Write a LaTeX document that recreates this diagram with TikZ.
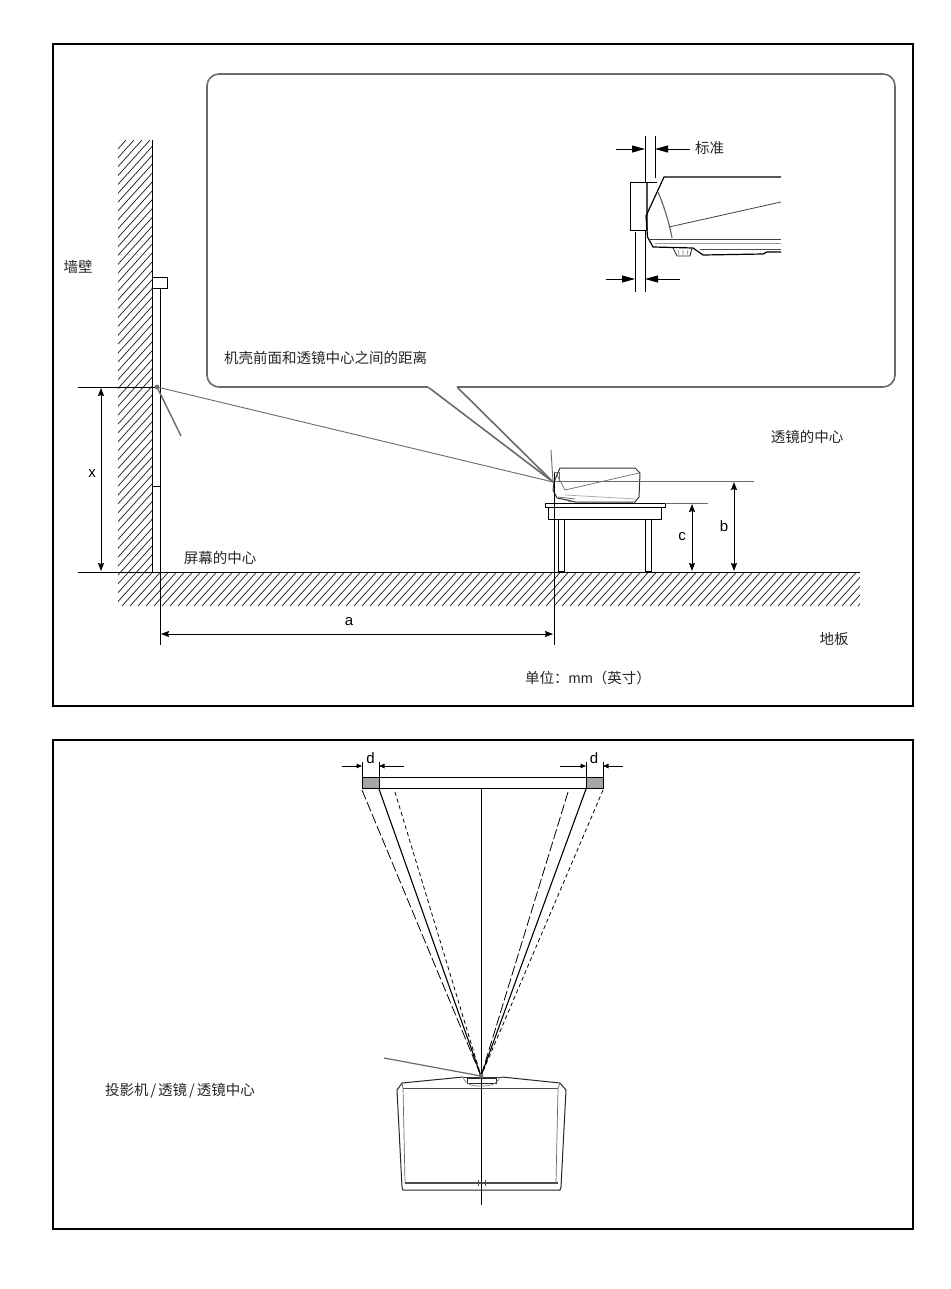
\documentclass[tikz,border=0pt]{standalone}
\usepackage{fontspec}
\setmainfont{Liberation Sans}
\newfontfamily\cjk{Noto Sans CJK SC}
\usetikzlibrary{arrows.meta}
\definecolor{leader}{gray}{0.42}
\tikzset{
  x=1pt,y=-1pt,
  frame/.style={draw=black,line width=1.4pt},
  ln/.style={draw=black,line width=1pt},
  thin line/.style={draw=black,line width=0.7pt},
  leaderline/.style={draw=leader,line width=0.9pt},
  dim/.style={draw=black,line width=1pt,{Stealth[length=8pt,width=6pt,inset=1pt]}-{Stealth[length=8pt,width=6pt,inset=1pt]}},
  bigarrow/.style={draw=black,line width=0.9pt,-{Stealth[length=13pt,width=7pt,inset=0pt]}},
  smallarrow/.style={draw=black,line width=0.9pt,-{Stealth[length=5.5pt,width=4.5pt,inset=0pt]}},
  label/.style={font=\cjk\fontsize{14.5}{16}\selectfont,inner sep=0pt,text=black!85},
  letter/.style={font=\fontsize{15}{16}\selectfont,inner sep=0pt},
  hatchline/.style={draw=black!85,line width=0.75pt},
  longdash/.style={draw=black,line width=0.8pt,dash pattern=on 10pt off 3pt},
  shortdash/.style={draw=black,line width=0.8pt,dash pattern=on 4pt off 3pt},
}
\begin{document}
\begin{tikzpicture}
\useasboundingbox (0,0) rectangle (950,1289);
\fill[white] (0,0) rectangle (950,1289);
% frames
\draw[frame] (53,44) rectangle (913,706);
\draw[frame] (53,740) rectangle (913,1229);
% hatching
\begin{scope}
\clip (118,140) rectangle (152,572) (118,572) rectangle (860,606);
\foreach \k in {0,8,...,1280} {
  \draw[hatchline] (-310+\k,606) -- (-310+\k+420,140);
}
\end{scope}
% wall and floor
\coordinate (wallT) at (152,140);
\coordinate (wallB) at (152,572);
\draw[ln] (wallT) -- (wallB);
\coordinate (floorL) at (78,572);
\coordinate (floorR) at (860,572);
\draw[ln] (floorL) -- (floorR);
% screen
\draw[ln] (152,277) rectangle (167,288);
\draw[ln] (160,288) -- (160,486) -- (152,486);
\draw[thin line] (160,486) -- (160,645);
\coordinate (scr) at (157,387);
\coordinate (xTop) at (78,387);
\draw[ln] (xTop) -- (scr);
% callout
\coordinate (tip) at (553,482);
\draw[draw=leader,line width=1.6pt,fill=white,rounded corners=0pt]
  (428,387) -- (tip) -- (457,387);
\draw[draw=leader,line width=1.6pt,fill=white,rounded corners=12pt]
  (428,387) -- (207,387) -- (207,74) -- (895,74) -- (895,387) -- (457,387);
% leaders
\coordinate (scrL) at (181,436);
\coordinate (tipL) at (551,450);
\draw[leaderline] (scr) -- (tip);
\draw[draw=leader,line width=1.4pt] (scr) -- (scrL);
\draw[leaderline] (tipL) -- (tip);
\fill[leader] (scr) circle (2.4pt);
% inset drawing
\draw[ln] (645,136) -- (645,292);
\draw[ln] (655,136) -- (655,178);
\draw[ln] (635,232) -- (635,292);
\coordinate (ia) at (616,149); \coordinate (ib) at (645,149);
\coordinate (ic) at (690,149); \coordinate (id) at (655,149);
\draw[bigarrow] (ia) -- (ib);
\draw[bigarrow] (ic) -- (id);
\coordinate (ie) at (606,279); \coordinate (if) at (635,279);
\coordinate (ig) at (680,279); \coordinate (ih) at (645,279);
\draw[bigarrow] (ie) -- (if);
\draw[bigarrow] (ig) -- (ih);
\draw[ln,fill=white] (630,183) rectangle (647,231);
\draw[draw=black!70,line width=1.6pt] (647,183) -- (647,231);
\draw[ln] (647,183) -- (657,183);
\draw[draw=black,line width=1.2pt] (781,177) -- (664,177) -- (646,216) -- (647.5,237) -- (653,247) -- (693,248) -- (703,255) -- (763,254) -- (767,252) -- (781,252);
\draw[draw=leader,line width=1.2pt] (658,192) .. controls (664,206) and (669,222) .. (672,238);
\draw[draw=black!75,line width=0.8pt] (669,227) -- (781,202);
\draw[draw=black!75,line width=0.9pt] (649,239) -- (781,239);
\draw[draw=black!40,line width=0.9pt] (655,243) -- (781,243);
\draw[draw=black!80,line width=0.9pt] (673,248) -- (677,256) -- (690,256) -- (692,248);
\draw[draw=black!50,line width=0.6pt] (678,250) -- (679,255) (683,250) -- (683,255) (688,250) -- (687,255);
\draw[draw=black!70,line width=0.8pt] (700,249) -- (781,249);
% table
\draw[ln] (545,503) rectangle (665,507.5);
\draw[ln] (548,507.5) rectangle (661,519);
\draw[ln] (558,519) rectangle (564,571);
\draw[ln] (645,519) rectangle (651,571);
% small projector
\draw[draw=black!80,line width=1pt,fill=white] (560,468) -- (635,468) -- (640,473) -- (639,497) -- (635,502) -- (575,502) -- (567,500) -- (557,498) -- (553,490) -- (554,482) -- cycle;
\draw[draw=black!60,line width=0.7pt] (554,472) rectangle (559,481);
\draw[draw=leader,line width=0.7pt] (557,475) -- (565,490) -- (639,473);
\draw[draw=black!35,line width=0.7pt] (565,495) -- (636,499);
\draw[draw=black!60,line width=0.7pt] (558,497) -- (575,499) (566,500) -- (571,502);
% dimension extension lines
\coordinate (lensB) at (559,481);
\coordinate (bR) at (754,481);
\draw[leaderline,line width=0.7pt] (lensB) -- (bR);
\coordinate (tblR) at (665,503);
\coordinate (cR) at (708,503);
\draw[draw=leader,line width=0.8pt] (tblR) -- (cR);
\draw[draw=black,line width=0.8pt] (554,473) -- (554,645);
% dimensions
\coordinate (xa) at (101,388); \coordinate (xb) at (101,571);
\draw[dim] (xa) -- (xb);
\node[letter] (lx) at (92,474) {x};
\coordinate (aa) at (161,634); \coordinate (ab) at (553,634);
\draw[dim] (aa) -- (ab);
\node[letter] (la) at (349,622) {a};
\coordinate (ca) at (692,504); \coordinate (cb) at (692,571);
\draw[dim] (ca) -- (cb);
\node[letter] (lc) at (682,537) {c};
\coordinate (ba) at (734,482); \coordinate (bb) at (734,571);
\draw[dim] (ba) -- (bb);
\node[letter] (lb) at (724,526) {b};
% labels top
\node[label] (t1) at (78,267) {墙壁};
\node[label,anchor=west] (t2) at (224,358) {机壳前面和透镜中心之间的距离};
\node[label,anchor=west] (t3) at (695,148) {标准};
\node[label] (t4) at (807,437) {透镜的中心};
\node[label] (t5) at (220,558) {屏幕的中心};
\node[label] (t6) at (834,639) {地板};
\node[label,anchor=west] (t7) at (525,678) {单位：\fontspec{Liberation Sans}mm\cjk（英寸）};
% bottom: screen
\draw[ln,fill=black!35] (362,777) rectangle (379,788.5);
\draw[ln,fill=black!35] (586,777) rectangle (603,788.5);
\draw[ln] (379,777) rectangle (586,788.5);
\draw[thin line] (362,762) -- (362,777) (379,762) -- (379,777);
\draw[thin line] (586,762) -- (586,777) (603,762) -- (603,777);
\coordinate (d1) at (342,766); \coordinate (d2) at (362,766);
\coordinate (d3) at (404,766); \coordinate (d4) at (379,766);
\coordinate (d5) at (560,766); \coordinate (d6) at (586,766);
\coordinate (d7) at (623,766); \coordinate (d8) at (603,766);
\draw[smallarrow] (d1) -- (d2);
\draw[smallarrow] (d3) -- (d4);
\draw[smallarrow] (d5) -- (d6);
\draw[smallarrow] (d7) -- (d8);
\node[letter] (ld1) at (370.5,758) {d};
\node[letter] (ld2) at (594,758) {d};
% beams
\coordinate (ptip) at (481,1076);
\coordinate (cT) at (481,789); \coordinate (cB) at (481,1205);
\draw[draw=black,line width=0.9pt] (cT) -- (cB);
\draw[draw=black,line width=1.1pt] (379,789) -- (ptip);
\draw[draw=black,line width=1.1pt] (586,789) -- (ptip);
\draw[longdash] (362,790) -- (ptip);
\draw[longdash] (568,792) -- (ptip);
\draw[shortdash] (395,792) -- (ptip);
\draw[shortdash] (603,790) -- (ptip);
% bottom projector
\draw[draw=black!85,line width=1pt] (463,1077) -- (402,1083) -- (397,1090) -- (402,1187) -- (403,1190) -- (560,1190) -- (561,1187) -- (566,1090) -- (560,1083) -- (502,1077);
\draw[draw=black!80,line width=0.8pt] (463,1077) -- (502,1077);
\draw[draw=black!85,line width=1pt] (467,1078) rectangle (496,1083);
\draw[draw=black!50,line width=0.7pt] (463,1077) .. controls (466,1085) and (472,1086) .. (481,1086) .. controls (490,1086) and (497,1085) .. (500,1077);
\draw[draw=black!70,line width=0.8pt] (403,1088) -- (558,1088);
\draw[draw=black!60,line width=0.7pt] (403,1088) -- (405,1183) (558,1088) -- (556,1183);
\draw[draw=black!60,line width=0.7pt] (402,1083) -- (403,1088) (560,1083) -- (558,1088);
\draw[draw=black!70,line width=1.6pt] (405,1183) -- (558,1183);
\draw[draw=black!70,line width=0.9pt] (478,1180) -- (478,1186) (485,1180) -- (485,1186);
\coordinate (pL) at (384,1058);
\draw[draw=leader,line width=1.2pt] (pL) -- (ptip);
\fill[leader] (ptip) circle (2.4pt);
\node[label] (t8) at (180,1091) {投影机\kern2pt/\kern2pt透镜\kern2pt/\kern2pt透镜中心};
\end{tikzpicture}
\end{document}
